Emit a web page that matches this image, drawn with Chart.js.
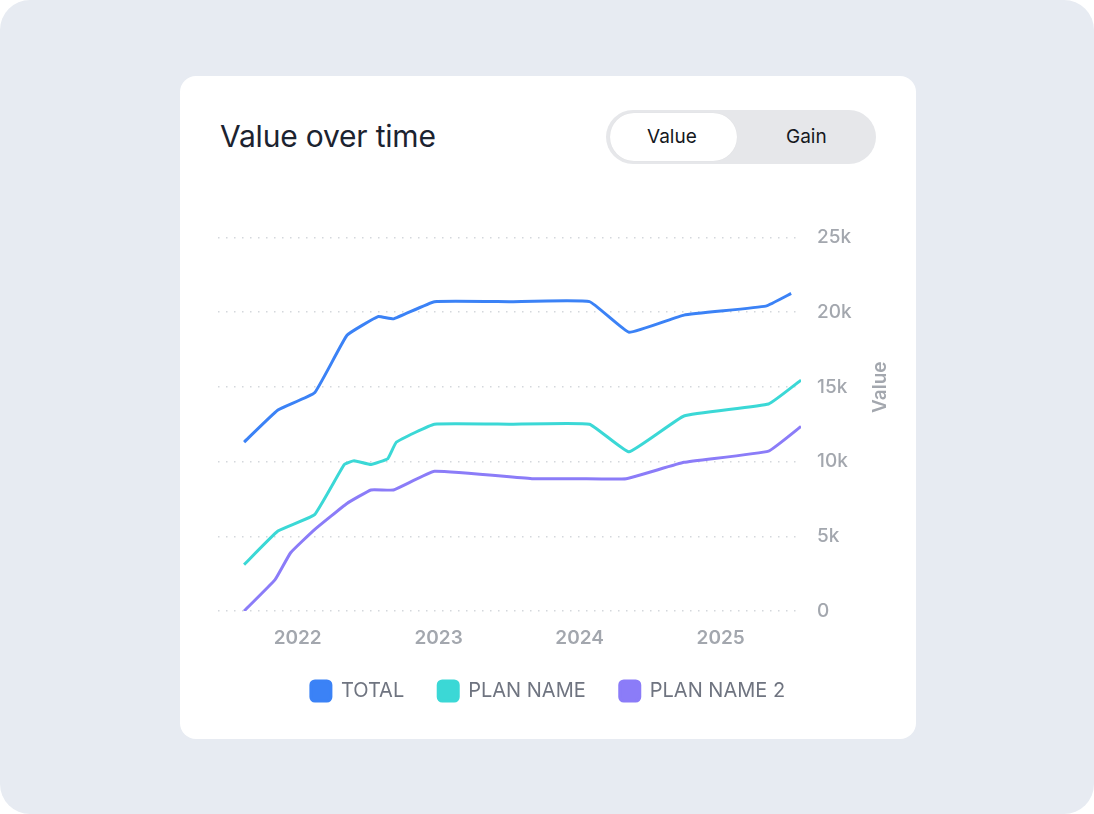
<!DOCTYPE html>
<html>
<head>
<meta charset="utf-8">
<script src="https://cdn.jsdelivr.net/npm/chart.js@4.4.1/dist/chart.umd.min.js"></script>
<style>
  html, body { margin: 0; padding: 0; background: #fff; }
  body { width: 1094px; height: 814px; position: relative; overflow: hidden; font-family: Inter, "Noto Sans", sans-serif; }
  .bg { position: absolute; left: 0; top: 0; width: 1094px; height: 814px; background: #e7ebf2; border-radius: 30px; }
  .card { position: absolute; left: 180px; top: 76px; width: 736px; height: 663px; background: #fff; border-radius: 16px; }
  .title { position: absolute; left: 40px; top: 42px; font-size: 30px; color: #1c2330; font-weight: 400; letter-spacing: -0.2px; }
  .toggle { position: absolute; left: 426px; top: 34px; width: 270px; height: 54px; background: #e6e7ea; border-radius: 27px; }
  .toggle .on { position: absolute; left: 4px; top: 3px; width: 127px; height: 48px; background: #fff; border-radius: 24px; box-shadow: 0 0 1px rgba(0,0,0,0.08); }
  .toggle span { position: absolute; top: 15px; font-size: 19px; color: #15181d; }
  .wrap { position: absolute; left: 20px; top: 134px; width: 710px; height: 501px; }
</style>
</head>
<body>
<div class="bg"></div>
<div class="card">
  <div class="title">Value over time</div>
  <div class="toggle">
    <div class="on"></div>
    <span style="left:41px">Value</span>
    <span style="left:180px">Gain</span>
  </div>
  <div class="wrap"><canvas id="myChart" width="710" height="501"></canvas></div>
</div>
<script>
// x = date as decimal year, y = value
var totalDates = [2021.62, 2021.86, 2022.12, 2022.35, 2022.57, 2022.68, 2022.97, 2023.5, 2024.07, 2024.35, 2024.74, 2025.32, 2025.50];
var totalValues = [11300, 13450, 14600, 18450, 19700, 19550, 20700, 20700, 20700, 18650, 19800, 20400, 21250];

var planDates = [2021.62, 2021.86, 2022.12, 2022.33, 2022.40, 2022.52, 2022.64, 2022.70, 2022.97, 2023.5, 2024.07, 2024.35, 2024.74, 2025.34, 2025.57];
var planValues = [3100, 5350, 6450, 9800, 10050, 9800, 10200, 11300, 12500, 12500, 12500, 10650, 13050, 13850, 15450];

var plan2Dates = [2021.62, 2021.84, 2021.95, 2022.12, 2022.35, 2022.52, 2022.68, 2022.97, 2023.67, 2024.0, 2024.33, 2024.74, 2025.34, 2025.57];
var plan2Values = [0, 2100, 3900, 5450, 7200, 8100, 8100, 9350, 8850, 8850, 8850, 9950, 10700, 12350];

var seriesNames = ["TOTAL", "PLAN NAME", "PLAN NAME 2"];
var colors = ["#3b82f6", "#3bd8d6", "#8b7cf8"];
var yTicks = [0, 5000, 10000, 15000, 20000, 25000];

function pts(xs, ys) {
  return xs.map(function(x, i) { return {x: x, y: ys[i]}; });
}

var allData = [pts(totalDates, totalValues), pts(planDates, planValues), pts(plan2Dates, plan2Values)];

// "Value" label reading bottom to top on the right side
var sideTitle = {
  id: "sideTitle",
  afterDraw: function(chart) {
    var a = chart.chartArea;
    var ctx = chart.ctx;
    ctx.save();
    ctx.translate(a.right + 79, (a.top + a.bottom) / 2 - 37);
    ctx.rotate(-Math.PI / 2);
    ctx.font = "600 19px Inter";
    ctx.fillStyle = "#a3a7ae";
    ctx.textAlign = "center";
    ctx.textBaseline = "middle";
    ctx.fillText("Value", 0, 0);
    ctx.restore();
  }
};

new Chart("myChart", {
  type: "line",
  data: {
    datasets: seriesNames.map(function(name, i) {
      return {
        label: name,
        data: allData[i],
        borderColor: colors[i],
        backgroundColor: colors[i],
        borderWidth: 3,
        pointRadius: 0,
        tension: 0.1,
        fill: false
      };
    })
  },
  options: {
    responsive: false,
    animation: false,
    layout: { padding: { left: 18, right: 32, top: 0, bottom: 0 } },
    plugins: {
      tooltip: { enabled: false },
      legend: {
        display: true,
        position: "bottom",
        labels: {
          boxWidth: 20,
          boxHeight: 20,
          useBorderRadius: true,
          borderRadius: 4,
          padding: 34,
          color: "#6f7480",
          font: { family: "Inter", size: 20 }
        }
      }
    },
    scales: {
      x: {
        type: "linear",
        min: 2021.435,
        max: 2025.57,
        grid: { display: false, drawTicks: false },
        border: { display: false },
        ticks: {
          stepSize: 1,
          includeBounds: false,
          padding: 16,
          color: "#a3a7ae",
          font: { family: "Inter", size: 19, weight: "600" },
          callback: function(v) { return Number.isInteger(v) ? String(v) : ""; }
        },
        afterFit: function(s) { s.height = 36; }
      },
      y: {
        position: "right",
        min: 0,
        max: 25000,
        afterBuildTicks: function(s) { s.ticks = yTicks.map(function(v) { return {value: v}; }); },
        grid: { color: "#d4d7dc", lineWidth: 1.5, drawTicks: false },
        border: { display: false, dash: [1.5, 6.5] },
        ticks: {
          padding: 16,
          color: "#a3a7ae",
          font: { family: "Inter", size: 19, weight: "500" },
          callback: function(v) { return v === 0 ? "0" : (v / 1000) + "k"; }
        },
        afterFit: function(s) { s.width = 77; }
      }
    }
  },
  plugins: [sideTitle]
});
</script>
</body>
</html>
